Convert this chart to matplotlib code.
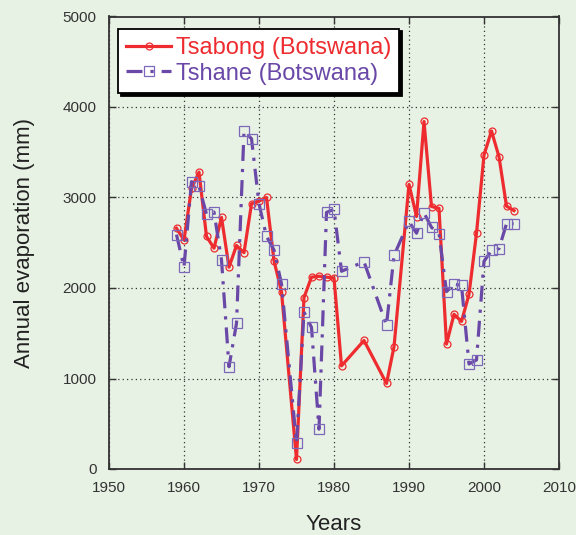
import numpy as np
import matplotlib
matplotlib.use("Agg")
import matplotlib.pyplot as plt

# --- data -----------------------------------------------------------
tsabong_years = [1959, 1960, 1961, 1962, 1963, 1964, 1965, 1966, 1967, 1968,
                 1969, 1970, 1971, 1972, 1973, 1975, 1976, 1977, 1978, 1979,
                 1980, 1981, 1984, 1987, 1988, 1990, 1991, 1992, 1993, 1994,
                 1995, 1996, 1997, 1998, 1999, 2000, 2001, 2002, 2003, 2004]
tsabong_evap = [2660, 2530, 3100, 3280, 2570, 2440, 2780, 2230, 2470, 2390,
                2930, 2960, 3000, 2300, 1960, 105, 1895, 2120, 2130, 2120,
                2110, 1140, 1420, 945, 1350, 3145, 2790, 3840, 2900, 2880,
                1380, 1710, 1630, 1930, 2605, 3470, 3735, 3450, 2905, 2855]

tshane_years = [1959, 1960, 1961, 1962, 1963, 1964, 1965, 1966, 1967, 1968,
                1969, 1970, 1971, 1972, 1973, 1975, 1976, 1977, 1978, 1979,
                1980, 1981, 1984, 1987, 1988, 1990, 1991, 1992, 1993, 1994,
                1995, 1996, 1997, 1998, 1999, 2000, 2001, 2002, 2003, 2004]
tshane_evap = [2590, 2230, 3175, 3125, 2815, 2840, 2310, 1130, 1610, 3730,
               3650, 2930, 2570, 2420, 2045, 285, 1735, 1565, 440, 2835,
               2870, 2185, 2290, 1590, 2360, 2735, 2605, 2830, 2670, 2600,
               1960, 2040, 2030, 1160, 1205, 2295, 2415, 2435, 2710, 2710]

x_ticks = [1950, 1960, 1970, 1980, 1990, 2000, 2010]
y_ticks = [0, 1000, 2000, 3000, 4000, 5000]

BG = "#e8f2e4"
RED = "#ee2b2f"
PURPLE = "#6a48a8"

plt.rcParams["font.family"] = ["Liberation Sans", "DejaVu Sans"]

fig = plt.figure(figsize=(5.76, 5.35), dpi=100, facecolor=BG)
ax = fig.add_axes([109 / 576, 1 - 469 / 535, 450 / 576, 452.5 / 535])
ax.set_facecolor(BG)

ax.plot(tsabong_years, tsabong_evap, color=RED, lw=2.3, marker="o", ms=5,
        mfc="none", mec=RED, mew=0.9, label="Tsabong (Botswana)", zorder=3)
ax.plot(tshane_years, tshane_evap, color=PURPLE, lw=2.3, ls=(0, (5, 2.5, 1, 2.5)),
        marker="s", ms=6.5, mfc="none", mec="#7c68bb", mew=0.9,
        label="Tshane (Botswana)", zorder=4)

ax.set_xlim(1950, 2010)
ax.set_ylim(0, 5000)
ax.set_xticks(x_ticks)
ax.set_yticks(y_ticks)
ax.grid(True, color="#333333", ls=(0, (1, 2.5)), lw=0.9)
ax.tick_params(direction="in", top=True, right=True, length=5, width=1,
               labelsize=11, colors="#333333", pad=9)
for s in ax.spines.values():
    s.set_color("#333333")
    s.set_linewidth(1.3)

ax.set_xlabel("Years", fontsize=16, color="#222222", labelpad=13)
ax.set_ylabel("Annual evaporation (mm)", fontsize=16, color="#222222", labelpad=20)

leg = ax.legend(loc="upper left", bbox_to_anchor=(0.02, 0.973), borderaxespad=0,
                fontsize=17, fancybox=False, framealpha=1, edgecolor="black",
                handlelength=1.9, handletextpad=0.2, borderpad=0.35,
                labelspacing=0.15, shadow={"color": "black", "alpha": 1})
leg.get_frame().set_linewidth(1.3)
for txt, c in zip(leg.get_texts(), [RED, PURPLE]):
    txt.set_color(c)

fig.savefig("out.png", dpi=100, facecolor=BG)
